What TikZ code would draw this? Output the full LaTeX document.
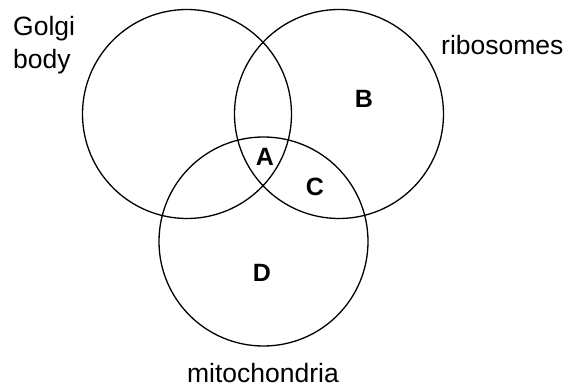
\documentclass[tikz,border=0pt]{standalone}
\usepackage{fontspec}
\setmainfont{Liberation Sans}
\usetikzlibrary{positioning}

\begin{document}
\begin{tikzpicture}[
                x=1pt, y=-1pt,
                set/.style={circle, draw, line width=1.3pt, minimum size=209pt, inner sep=0pt},
                setlabel/.style={font=\fontsize{26.5}{33}\selectfont, align=left, inner sep=0pt},
                region/.style={font=\fontsize{25}{26}\selectfont\bfseries, inner sep=0pt}
            ]
                \useasboundingbox (0,0) rectangle (566,387);
                \node[set] (golgi) at (187,114) {};
                \node[set] (ribo) at (339,114) {};
                \node[set] (mito) at (263.5,241.5) {};
                
                \node[setlabel, anchor=west] (golgilbl) at (13,45) {Golgi\\body};
                \node[setlabel, anchor=west] (ribolbl) at (441,45) {ribosomes};
                \node[setlabel] (mitolbl) at (263,373) {mitochondria};
                
                \node[region] (a) at (265,157) {A};
                \node[region] (b) at (364,99) {B};
                \node[region] (c) at (315,187) {C};
                \node[region] (d) at (262,273) {D};
            \end{tikzpicture}
\end{document}
